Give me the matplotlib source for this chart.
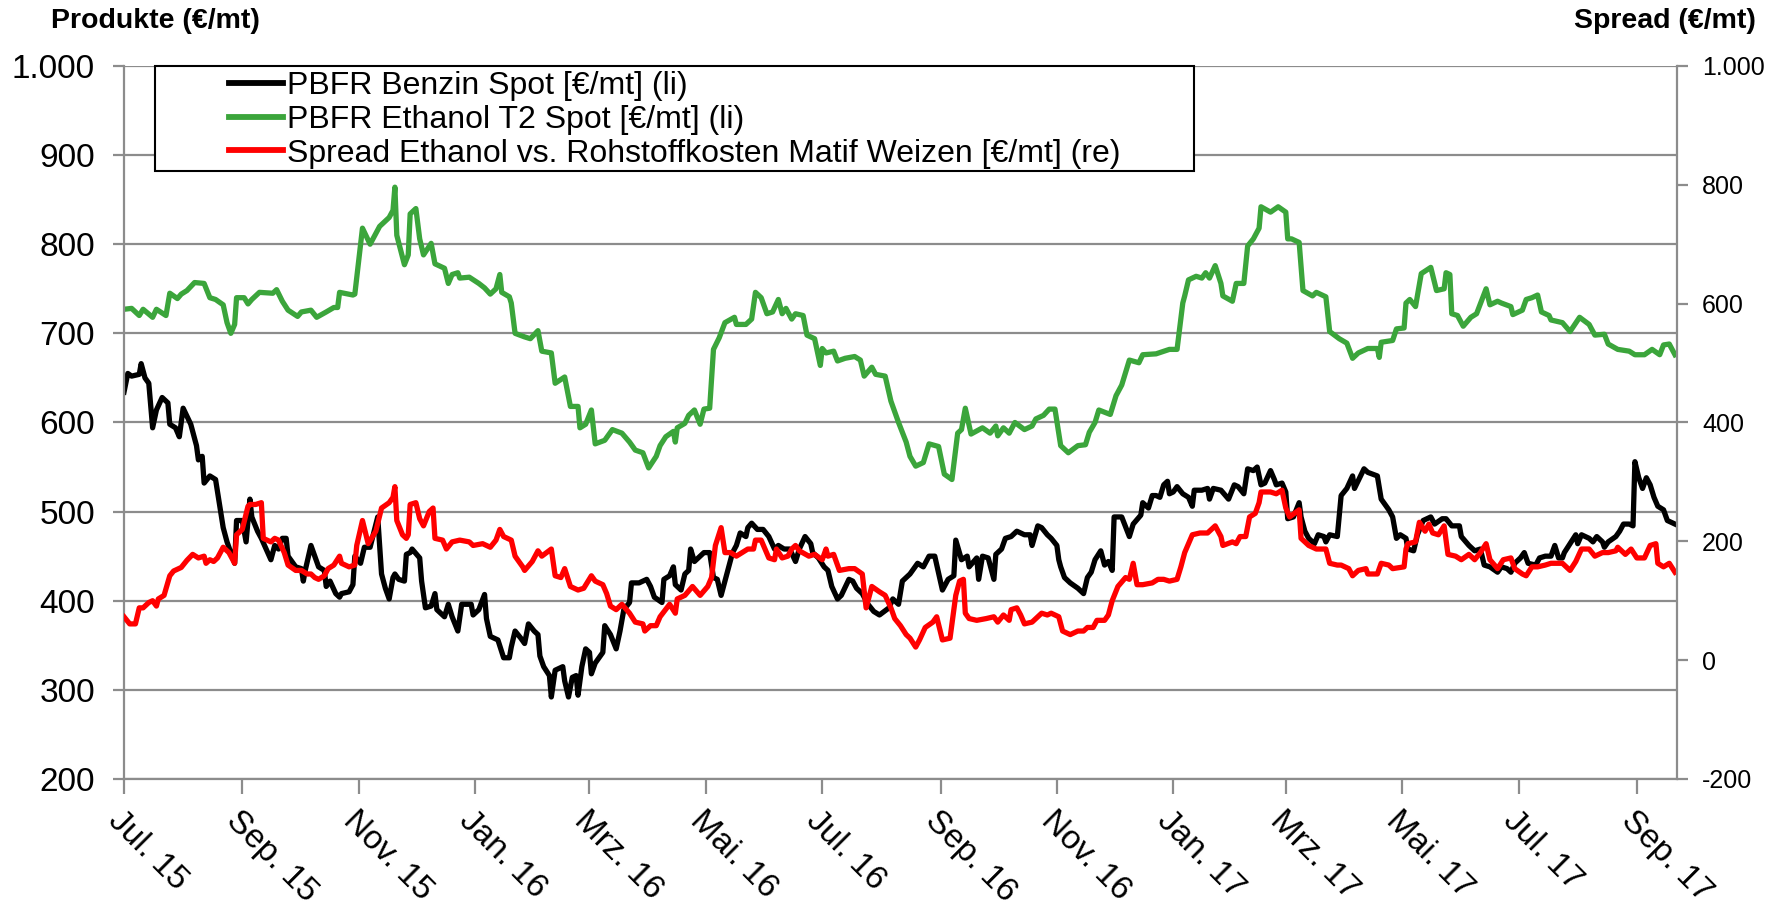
import numpy as np
import pandas as pd
import matplotlib
matplotlib.use("Agg")
import matplotlib.pyplot as plt
import matplotlib.transforms as mtransforms
from matplotlib.ticker import FixedLocator, FuncFormatter
from matplotlib.patches import Rectangle

plt.rcParams['font.family'] = ['Liberation Sans', 'DejaVu Sans']

start = pd.Timestamp('2015-07-01')
end = pd.Timestamp('2017-09-22')

# PBFR Benzin Spot (left axis), days since 1 Jul 2015
benzin_days = [0, 2, 4, 8, 9, 11, 13, 15, 17, 20, 23, 24, 27, 29, 31, 35, 38, 39, 41, 42, 45, 48, 52, 54, 58, 59,
               62, 64, 66, 67, 70, 72, 77, 79, 81, 83, 85, 86, 90, 93, 94, 95, 98, 100, 102, 105, 106, 108, 111,
               113, 114, 118, 120, 121, 124, 126, 129, 133, 135, 137, 139, 141, 142, 144, 147, 148, 150, 151, 155,
               156, 158, 161, 163, 164, 168, 170, 172, 175, 177, 182, 183, 186, 189, 190, 192, 196, 199, 202, 203,
               205, 208, 210, 212, 215, 217, 218, 220, 223, 224, 226, 230, 231, 233, 235, 237, 238, 240, 242, 244,
               245, 247, 251, 252, 255, 258, 260, 262, 265, 266, 270, 274, 276, 278, 282, 283, 286, 288, 289, 292,
               294, 296, 297, 299, 304, 307, 309, 311, 313, 317, 319, 321, 323, 326, 327, 329, 332, 335, 338, 341,
               343, 346, 349, 352, 354, 357, 360, 361, 364, 367, 369, 371, 374, 376, 380, 382, 384, 387, 390, 393,
               396, 401, 403, 406, 408, 410, 412, 416, 419, 422, 425, 429, 432, 435, 436, 439, 442, 443, 447, 448,
               450, 453, 456, 457, 460, 462, 465, 468, 472, 475, 476, 479, 481, 484, 486, 489, 490, 491, 493, 496,
               500, 503, 505, 507, 509, 512, 514, 516, 518, 519, 523, 527, 529, 533, 534, 537, 539, 541, 543, 545,
               547, 548, 550, 552, 555, 558, 560, 561, 565, 568, 569, 571, 575, 579, 582, 584, 587, 589, 592, 594,
               596, 598, 601, 603, 604, 607, 609, 610, 613, 616, 617, 619, 621, 624, 626, 629, 630, 632, 636, 638,
               641, 644, 645, 650, 652, 657, 659, 663, 665, 667, 669, 672, 673, 676, 678, 681, 685, 687, 691, 693,
               696, 700, 701, 705, 708, 711, 713, 716, 720, 722, 725, 727, 729, 732, 734, 736, 740, 742, 745, 748,
               750, 752, 754, 755, 758, 761, 762, 764, 768, 770, 772, 775, 776, 778, 782, 784, 786, 789, 791, 792,
               794, 796, 798, 800, 802, 804, 807, 809, 813]
benzin_vals = [634, 655, 652, 654, 666, 650, 644, 594, 614, 628, 622, 598, 594, 584, 616, 598, 574, 558, 562, 532,
               540, 536, 482, 466, 442, 490, 490, 466, 514, 494, 478, 470, 446, 462, 458, 470, 470, 450, 438, 436,
               422, 434, 462, 450, 438, 434, 416, 422, 408, 404, 408, 410, 418, 450, 442, 460, 460, 494, 430, 414,
               402, 426, 430, 424, 422, 452, 454, 458, 448, 422, 392, 394, 408, 390, 382, 396, 382, 366, 396, 396,
               384, 390, 407, 380, 360, 356, 336, 336, 348, 366, 358, 352, 374, 366, 362, 338, 326, 316, 292, 322,
               326, 310, 292, 314, 316, 294, 326, 346, 342, 318, 330, 342, 372, 362, 346, 366, 390, 398, 420, 420,
               424, 416, 404, 398, 424, 428, 438, 418, 412, 430, 434, 458, 444, 454, 454, 426, 424, 406, 438, 454,
               462, 476, 472, 482, 487, 480, 480, 472, 458, 462, 458, 458, 444, 458, 472, 464, 454, 448, 438, 434,
               416, 402, 406, 424, 422, 414, 408, 396, 388, 384, 392, 402, 396, 422, 426, 430, 442, 438, 450, 450,
               412, 424, 428, 468, 446, 450, 438, 448, 424, 450, 448, 424, 452, 458, 470, 472, 478, 474, 474, 462,
               484, 482, 474, 470, 462, 446, 438, 426, 420, 414, 408, 426, 432, 446, 456, 440, 444, 434, 494, 494,
               472, 486, 496, 510, 504, 518, 518, 516, 530, 534, 520, 522, 528, 520, 516, 506, 524, 524, 526, 514,
               526, 524, 514, 530, 528, 520, 548, 546, 550, 530, 532, 546, 536, 530, 532, 522, 492, 494, 510, 494,
               478, 470, 464, 474, 472, 466, 474, 472, 518, 526, 540, 526, 548, 544, 540, 514, 502, 494, 470, 474,
               470, 458, 456, 474, 490, 494, 486, 492, 492, 484, 484, 472, 462, 456, 458, 440, 438, 432, 438, 436,
               432, 442, 448, 454, 442, 440, 448, 450, 450, 462, 448, 448, 454, 464, 474, 464, 474, 470, 466, 472,
               466, 460, 466, 472, 478, 486, 486, 484, 556, 538, 526, 538, 530, 516, 506, 502, 490, 486]

# PBFR Ethanol T2 Spot (left axis)
ethanol_days = [0, 4, 8, 10, 15, 17, 22, 24, 28, 30, 33, 37, 42, 45, 48, 52, 54, 56, 58, 59, 63, 65, 67, 71, 78,
                80, 83, 86, 91, 93, 98, 101, 106, 110, 112, 113, 120, 121, 125, 129, 134, 139, 141, 142, 143, 147,
                149, 150, 153, 155, 157, 161, 163, 168, 170, 172, 175, 176, 181, 186, 189, 192, 195, 197, 198, 202,
                203, 205, 210, 213, 217, 219, 224, 226, 231, 234, 238, 239, 242, 245, 247, 252, 256, 261, 265, 268,
                272, 275, 279, 281, 284, 288, 289, 290, 294, 296, 299, 302, 304, 307, 309, 312, 315, 320, 321, 326,
                329, 331, 334, 337, 340, 343, 345, 347, 350, 352, 356, 358, 362, 365, 366, 368, 372, 374, 378, 383,
                386, 388, 392, 394, 399, 402, 406, 410, 412, 415, 419, 422, 427, 430, 434, 437, 439, 441, 444, 450,
                454, 457, 458, 461, 464, 467, 472, 476, 478, 482, 485, 488, 491, 495, 500, 504, 506, 509, 511, 517,
                520, 523, 527, 532, 534, 541, 548, 552, 555, 556, 558, 562, 565, 567, 569, 572, 575, 576, 581, 583,
                587, 589, 592, 595, 596, 601, 605, 609, 610, 612, 616, 618, 623, 625, 630, 632, 637, 641, 644, 647,
                652, 657, 658, 659, 665, 667, 671, 672, 674, 677, 680, 685, 688, 692, 693, 695, 696, 699, 702, 706,
                709, 714, 716, 720, 722, 727, 728, 733, 735, 738, 741, 743, 747, 748, 754, 758, 763, 768, 771, 776,
                778, 783, 789, 792, 797, 801, 805, 807, 810, 813]
ethanol_vals = [727, 728, 720, 727, 718, 727, 720, 745, 739, 744, 748, 757, 756, 740, 738, 732, 712, 700, 710,
                740, 740, 733, 738, 746, 745, 749, 736, 726, 719, 724, 726, 718, 724, 729, 729, 746, 743, 744, 818,
                800, 820, 830, 838, 864, 810, 777, 788, 834, 840, 806, 788, 801, 778, 773, 756, 766, 768, 762, 763,
                756, 751, 744, 750, 766, 746, 741, 734, 700, 696, 694, 703, 680, 678, 644, 651, 618, 618, 594, 598,
                614, 576, 580, 592, 588, 578, 569, 566, 549, 562, 574, 584, 590, 578, 594, 599, 608, 614, 598, 615,
                616, 682, 695, 712, 718, 710, 710, 716, 746, 740, 722, 724, 738, 722, 728, 716, 722, 720, 698, 694,
                664, 683, 678, 680, 669, 672, 674, 670, 652, 662, 654, 652, 624, 600, 578, 562, 551, 555, 576, 573,
                542, 536, 588, 592, 616, 587, 594, 588, 596, 585, 594, 588, 600, 592, 596, 604, 608, 615, 615, 574,
                566, 574, 575, 589, 600, 614, 609, 630, 642, 670, 667, 676, 677, 682, 682, 734, 742, 760, 764, 762,
                768, 762, 776, 756, 742, 736, 756, 756, 798, 806, 818, 842, 836, 842, 836, 806, 806, 802, 748, 742,
                746, 741, 702, 694, 689, 672, 678, 683, 683, 673, 690, 692, 705, 706, 734, 738, 730, 767, 774, 748,
                750, 768, 766, 722, 720, 708, 718, 722, 750, 732, 736, 734, 730, 721, 726, 738, 740, 743, 724, 720,
                715, 712, 702, 718, 710, 698, 699, 688, 682, 680, 676, 676, 682, 676, 687, 688, 676]

# Spread Ethanol vs. Rohstoffkosten Matif Weizen (right axis)
spread_days = [0, 3, 5, 6, 8, 10, 13, 15, 17, 18, 21, 24, 26, 30, 33, 36, 39, 42, 43, 45, 47, 49, 52, 55, 58, 59,
               62, 65, 66, 69, 72, 73, 77, 79, 81, 84, 86, 90, 93, 96, 98, 100, 102, 105, 107, 110, 113, 114, 118,
               121, 122, 125, 128, 132, 135, 139, 141, 142, 143, 146, 148, 149, 150, 153, 155, 157, 160, 162, 163,
               167, 169, 172, 176, 181, 183, 188, 192, 195, 197, 199, 203, 205, 209, 210, 214, 217, 219, 224, 226,
               229, 231, 234, 238, 241, 245, 247, 251, 253, 255, 258, 261, 265, 268, 272, 273, 276, 279, 281, 286,
               289, 290, 294, 298, 302, 306, 308, 310, 313, 315, 318, 321, 324, 327, 330, 331, 334, 338, 341, 342,
               345, 348, 350, 352, 354, 359, 362, 366, 368, 369, 372, 375, 380, 383, 387, 389, 392, 396, 399, 402,
               404, 407, 410, 412, 415, 417, 420, 424, 426, 429, 433, 436, 438, 440, 441, 443, 447, 452, 456, 458,
               461, 464, 465, 468, 470, 472, 476, 479, 481, 484, 486, 490, 492, 496, 500, 503, 505, 508, 510, 514,
               516, 518, 521, 525, 527, 529, 531, 534, 539, 542, 545, 548, 552, 554, 556, 558, 560, 564, 568, 572,
               575, 576, 581, 583, 585, 588, 590, 593, 595, 596, 601, 604, 607, 609, 611, 616, 617, 621, 625, 630,
               632, 636, 638, 642, 644, 647, 651, 652, 657, 659, 663, 665, 671, 672, 673, 677, 679, 682, 684, 686,
               689, 692, 694, 698, 701, 705, 708, 711, 714, 716, 720, 723, 727, 729, 733, 735, 738, 741, 745, 748,
               754, 758, 761, 764, 768, 771, 775, 778, 782, 783, 787, 790, 793, 797, 800, 803, 804, 807, 810, 813]
spread_vals = [73, 61, 61, 61, 88, 88, 97, 100, 91, 103, 109, 142, 150, 156, 168, 178, 172, 175, 163, 169, 166,
               172, 190, 181, 163, 211, 220, 259, 262, 262, 265, 205, 199, 205, 202, 181, 160, 151, 151, 145, 145,
               139, 136, 142, 154, 160, 175, 163, 157, 160, 193, 235, 196, 217, 256, 265, 274, 292, 235, 211, 205,
               211, 262, 265, 238, 226, 250, 256, 205, 202, 187, 199, 202, 199, 193, 196, 190, 202, 220, 208, 202,
               175, 157, 151, 166, 184, 175, 187, 142, 139, 154, 124, 118, 121, 142, 133, 127, 112, 91, 85, 94, 79,
               64, 61, 49, 58, 58, 73, 94, 79, 103, 109, 124, 109, 124, 139, 193, 223, 181, 181, 175, 181, 187, 187,
               202, 202, 172, 169, 187, 172, 175, 187, 193, 184, 175, 178, 169, 187, 175, 178, 151, 154, 154, 145,
               88, 124, 115, 109, 88, 70, 58, 43, 37, 22, 34, 55, 64, 73, 34, 37, 109, 133, 136, 79, 70, 67, 70, 73,
               64, 76, 67, 85, 88, 76, 61, 64, 73, 79, 76, 79, 73, 49, 43, 49, 49, 55, 55, 67, 67, 76, 100, 124, 139,
               136, 163, 127, 127, 130, 136, 136, 133, 136, 157, 181, 196, 211, 214, 214, 226, 208, 193, 199, 196,
               208, 208, 241, 247, 265, 283, 283, 280, 286, 256, 241, 253, 205, 193, 187, 187, 163, 160, 160, 154,
               142, 151, 154, 145, 145, 163, 160, 154, 157, 187, 196, 199, 232, 217, 229, 214, 211, 226, 178, 175,
               169, 178, 169, 181, 196, 169, 154, 169, 172, 154, 145, 142, 157, 157, 160, 163, 163, 151, 166, 187,
               187, 175, 181, 181, 184, 190, 178, 187, 172, 172, 193, 196, 163, 157, 163, 148]

tick_labels = ['Jul. 15', 'Sep. 15', 'Nov. 15', 'Jan. 16', 'Mrz. 16', 'Mai. 16', 'Jul. 16', 'Sep. 16',
               'Nov. 16', 'Jan. 17', 'Mrz. 17', 'Mai. 17', 'Jul. 17', 'Sep. 17']

labels = ['PBFR Benzin Spot [€/mt] (li)',
          'PBFR Ethanol T2 Spot [€/mt] (li)',
          'Spread Ethanol vs. Rohstoffkosten Matif Weizen [€/mt] (re)']

black = '#000000'
green = '#3BA53B'
red = '#FF0000'
grey = '#8C8C8C'


def to_dates(days):
    return start + pd.to_timedelta(np.array(days), unit='D')


def thousands(v, pos):
    return f'{v:,.0f}'.replace(',', '.')


fig = plt.figure(figsize=(17.79, 9.06), dpi=100)
ax = fig.add_axes([0.0697, 0.1402, 0.8729, 0.787])
ax2 = ax.twinx()

lw = 3.8
l1, = ax.plot(to_dates(benzin_days), benzin_vals, color=black, lw=lw, solid_joinstyle='round')
l2, = ax.plot(to_dates(ethanol_days), ethanol_vals, color=green, lw=lw, solid_joinstyle='round')
l3, = ax2.plot(to_dates(spread_days), spread_vals, color=red, lw=lw, solid_joinstyle='round')

ax.set_xlim(start, end)
ax.set_ylim(200, 1000)
ax2.set_ylim(-200, 1000)

ax.yaxis.set_major_locator(FixedLocator(np.arange(200, 1001, 100)))
ax2.yaxis.set_major_locator(FixedLocator(np.arange(-200, 1001, 200)))
ax.yaxis.set_major_formatter(FuncFormatter(thousands))
ax2.yaxis.set_major_formatter(FuncFormatter(thousands))

xt = pd.date_range('2015-07-01', '2017-09-01', freq='2MS')
ax.set_xticks(xt)
ax.set_xticklabels(tick_labels, rotation=-45, ha='left', va='top', rotation_mode='anchor')
shift = mtransforms.ScaledTranslation(47 / 100, 0, fig.dpi_scale_trans)
for t in ax.get_xticklabels():
    t.set_transform(t.get_transform() + shift)

ax.grid(axis='y', color=grey, lw=1.6)
ax.set_axisbelow(True)

for a in (ax, ax2):
    for s in a.spines.values():
        s.set_visible(False)
ax.spines['left'].set_visible(True)
ax.spines['bottom'].set_visible(True)
ax2.spines['right'].set_visible(True)
for s in (ax.spines['left'], ax.spines['bottom'], ax2.spines['right']):
    s.set_color(grey)
    s.set_linewidth(1.6)

ax.tick_params(axis='y', length=8, width=1.6, color=grey, labelsize=24, pad=13)
ax.tick_params(axis='x', length=11, width=1.6, color=grey, labelsize=24, pad=8)
ax2.tick_params(axis='y', length=8, width=1.6, color=grey, labelsize=18, pad=10)

fig.text(0.0287, 0.977, 'Produkte (€/mt)', fontsize=20.5, fontweight='bold', ha='left', va='center')
fig.text(0.987, 0.977, 'Spread (€/mt)', fontsize=20.5, fontweight='bold', ha='right', va='center')

# legend box as in the original, with the entries indented
ax2.add_patch(Rectangle((0.02, 0.853), 0.669, 0.147, transform=ax2.transAxes, fill=False,
                        edgecolor='black', lw=1.5, zorder=5, clip_on=False))
ax2.add_patch(Rectangle((0.02, 0.853), 0.669, 0.147, transform=ax2.transAxes, facecolor='white',
                        edgecolor='none', zorder=4, clip_on=False))
leg = ax2.legend([l1, l2, l3], labels, loc='upper left', bbox_to_anchor=(0.0675, 0.993), frameon=False,
                 fontsize=23, handlelength=1.7, handletextpad=0.12, labelspacing=0.12,
                 borderpad=0, borderaxespad=0)
leg.set_zorder(6)
for h in leg.get_lines():
    h.set_linewidth(4.2)

fig.savefig('out.png', dpi=100)
